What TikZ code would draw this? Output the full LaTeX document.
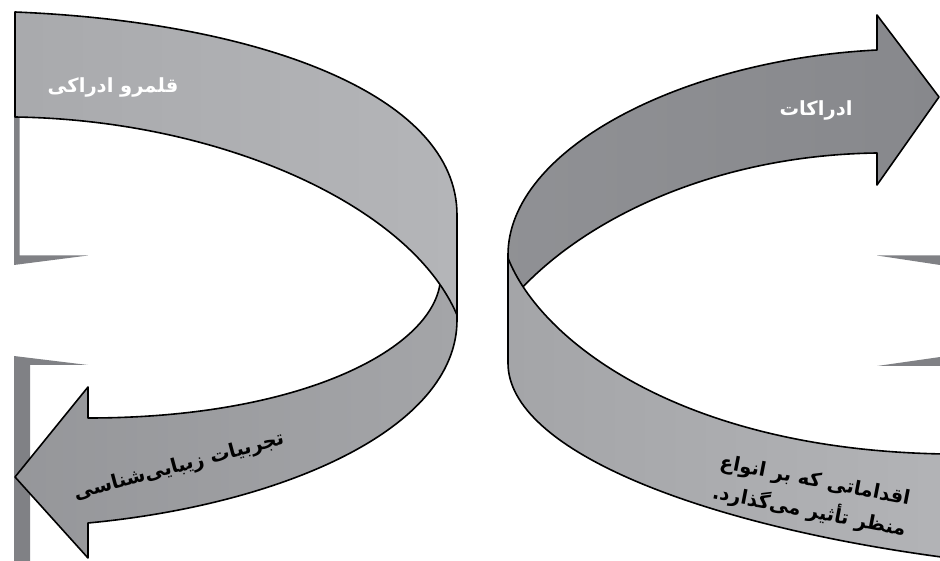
\documentclass[tikz,border=0pt]{standalone}
\usepackage{fontspec}
\newfontfamily\fafont[Script=Arabic]{DejaVu Sans}
\TeXXeTstate=1

\definecolor{framegray}{HTML}{808185}
\definecolor{bandlight}{HTML}{B4B5B8}
\definecolor{banddim}{HTML}{A4A5A8}
\definecolor{banddark}{HTML}{87888C}

\begin{document}
\begin{tikzpicture}[x=1pt,y=-1pt,
    rim/.style={draw=black,line width=1.6pt,line join=round},
    frameedge/.style={fill=framegray},
    falabel/.style={font=\fafont\bfseries\fontsize{19.5}{31}\selectfont,inner sep=0pt}]
    \useasboundingbox (0,0) rectangle (940,561);
    \clip (0,0) rectangle (940,561);

    % Frame corners behind the ribbons
    \fill[frameedge] (14,117) -- (19.5,117) -- (19.5,255.5) -- (88,255.5) -- (14,265) -- cycle;
    \fill[frameedge] (14,356) -- (88,365) -- (30,365) -- (30,561) -- (14,561) -- cycle;
    \fill[frameedge] (877,255.5) -- (940,255.5) -- (940,265) -- cycle;
    \fill[frameedge] (877,366) -- (940,357) -- (940,366) -- cycle;

    % Left ribbon, lower half with arrow
    \path[rim,left color=banddark!50!banddim,right color=banddim] (88,418) .. controls (300,418) and (430,350) .. (440,284)
        -- (457,240) -- (457,320) .. controls (457,430) and (280,505) .. (88,523)
        -- (88,558) -- (15,477) -- (88,387) -- cycle;
    % Left ribbon, upper half
    \path[rim,left color=banddim!70!bandlight,right color=bandlight] (15,12) .. controls (260,22) and (457,95) .. (457,215)
        -- (457,315) .. controls (410,205) and (220,120) .. (15,117) -- cycle;

    % Right ribbon, upper half with arrow
    \path[rim,left color=banddark!70!banddim,right color=banddark] (877,50) .. controls (680,60) and (508,150) .. (508,255)
        -- (508,310) -- (520,290) .. controls (590,215) and (720,155) .. (877,153)
        -- (877,185) -- (939,97) -- (877,15) -- cycle;
    % Right ribbon, lower half
    \path[rim,left color=banddim,right color=bandlight!90!banddim] (508,258) .. controls (540,340) and (680,450) .. (945,454)
        -- (945,557.5) .. controls (700,525) and (508,450) .. (508,363) -- cycle;

    % Labels
    \node[falabel,text=white] (realm) at (113,87) {\beginR قلمرو ادراکی\endR};
    \node[falabel,text=white] (percepts) at (816,110) {\beginR ادراکات\endR};
    \node[falabel,rotate=15] (aesthetic) at (179,467) {\beginR تجربیات زیبایی‌شناسی\endR};
    \node[falabel,rotate=-11,align=center] (actions) at (812,497)
        {\beginR اقداماتی که بر انواع\endR\\\beginR منظر تأثیر می‌گذارد.\endR};
\end{tikzpicture}
\end{document}
